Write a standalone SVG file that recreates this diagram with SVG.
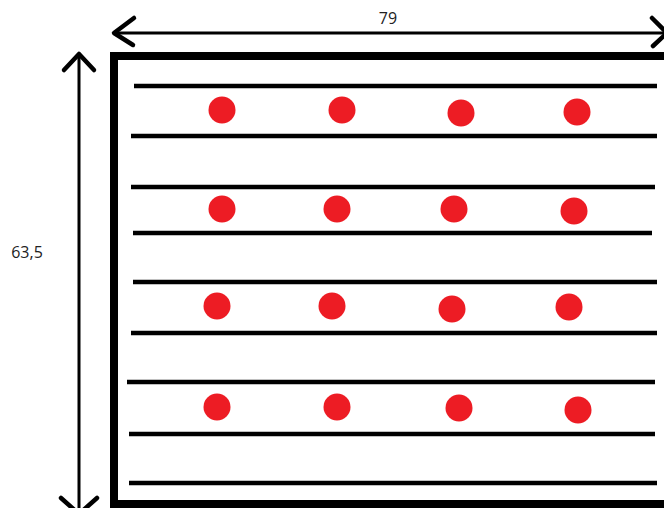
<svg xmlns="http://www.w3.org/2000/svg" width="664" height="508" viewBox="0 0 664 508">
<style>
.ln{stroke:#000;stroke-width:4.5;fill:none}
.arr{stroke:#000;stroke-width:3;fill:none}
.head{stroke:#000;stroke-width:4.5;fill:none;stroke-linecap:round;stroke-linejoin:round}
.dot{fill:#ED1C24}
.lbl{font-family:"Open Sans","Liberation Sans",sans-serif;font-size:16px;fill:#222}
</style>
<rect width="664" height="508" fill="#fff"/>
<g id="frame">
<rect x="114" y="56" width="570" height="448" fill="none" stroke="#000" stroke-width="8"/>
</g>
<g id="lines">
<line class="ln" x1="134" y1="86" x2="657" y2="86"/>
<line class="ln" x1="131" y1="136" x2="657" y2="136"/>
<line class="ln" x1="131" y1="187" x2="655" y2="187"/>
<line class="ln" x1="133" y1="233" x2="652" y2="233"/>
<line class="ln" x1="133" y1="282" x2="657" y2="282"/>
<line class="ln" x1="131" y1="333" x2="657" y2="333"/>
<line class="ln" x1="127" y1="382" x2="655" y2="382"/>
<line class="ln" x1="129" y1="434" x2="655" y2="434"/>
<line class="ln" x1="129" y1="483" x2="657" y2="483"/>
</g>
<g id="dots">
<circle class="dot" cx="222" cy="110" r="13.5"/>
<circle class="dot" cx="342" cy="110" r="13.5"/>
<circle class="dot" cx="461" cy="113" r="13.5"/>
<circle class="dot" cx="577" cy="112" r="13.5"/>
<circle class="dot" cx="222" cy="209" r="13.5"/>
<circle class="dot" cx="337" cy="209" r="13.5"/>
<circle class="dot" cx="454" cy="209" r="13.5"/>
<circle class="dot" cx="574" cy="211" r="13.5"/>
<circle class="dot" cx="217" cy="306" r="13.5"/>
<circle class="dot" cx="332" cy="306" r="13.5"/>
<circle class="dot" cx="452" cy="309" r="13.5"/>
<circle class="dot" cx="569" cy="307" r="13.5"/>
<circle class="dot" cx="217" cy="407" r="13.5"/>
<circle class="dot" cx="337" cy="407" r="13.5"/>
<circle class="dot" cx="459" cy="408" r="13.5"/>
<circle class="dot" cx="578" cy="410" r="13.5"/>
</g>
<g id="connectors">
<g id="dim-width">
<line class="arr" x1="114" y1="33" x2="668" y2="33"/>
<polyline class="head" points="134,18 114,33 133,45"/>
<polyline class="head" points="652,18 667,33 653,46"/>
</g>
<g id="dim-height">
<line class="arr" x1="79" y1="54" x2="79" y2="514"/>
<polyline class="head" points="64,70 79,54 94,70"/>
<polyline class="head" points="61,498 79,514 97,498"/>
</g>
</g>
<g id="labels">
<text class="lbl" x="388" y="24" text-anchor="middle">79</text>
<text class="lbl" x="27" y="258" text-anchor="middle">63,5</text>
</g>
</svg>
